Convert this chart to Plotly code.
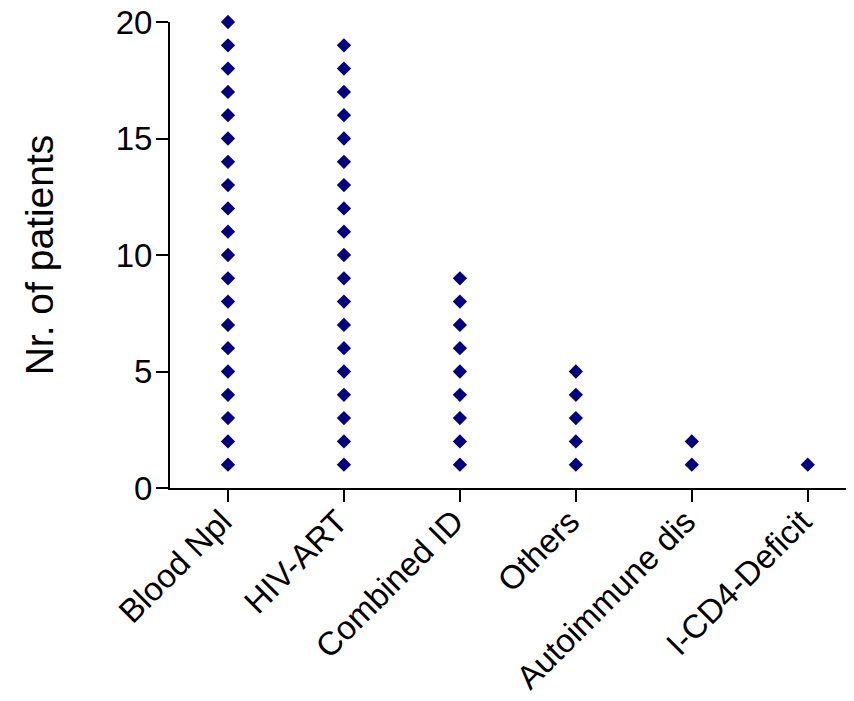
import plotly.graph_objects as go

categories = ["Blood Npl", "HIV-ART", "Combined ID", "Others", "Autoimmune dis", "I-CD4-Deficit"]
patient_counts = [20, 19, 9, 5, 2, 1]
y_ticks = [0, 5, 10, 15, 20]

xs, ys = [], []
for cat, n in zip(categories, patient_counts):
    for k in range(1, n + 1):
        xs.append(cat)
        ys.append(k)

font_family = "Liberation Sans, Arial, sans-serif"

# page body has an 8px margin; size figure so it fits the 854x701 window
fig = go.Figure(go.Scatter(
    x=xs, y=ys, mode="markers",
    marker=dict(symbol="diamond", size=11, color="#00007F"),
    cliponaxis=False, showlegend=False,
))

fig.update_layout(
    width=846, height=693,
    margin=dict(l=162, r=1, t=14, b=213, autoexpand=False),
    paper_bgcolor="white", plot_bgcolor="white",
    font=dict(family=font_family, color="black", size=32),
)
fig.update_xaxes(
    type="category", categoryorder="array", categoryarray=categories,
    range=[-0.5, 5.39], automargin=False,
    showline=True, linecolor="black", linewidth=2,
    ticks="outside", ticklen=12, tickwidth=2, tickcolor="black",
    tickangle=-45, showgrid=False, zeroline=False,
    tickfont=dict(size=33), ticklabeloverflow="allow",
    ticklabelstandoff=-13, ticklabelshift=-6,
)
fig.update_yaxes(
    range=[0, 20], tickvals=y_ticks, automargin=False,
    showline=True, linecolor="black", linewidth=2,
    ticks="outside", ticklen=12, tickwidth=2, tickcolor="black",
    showgrid=False, zeroline=False,
    tickfont=dict(size=33), ticklabeloverflow="allow", ticklabelstandoff=-3,
    title=dict(text="Nr. of patients", font=dict(size=39), standoff=50),
)

fig.write_html("out.html")
